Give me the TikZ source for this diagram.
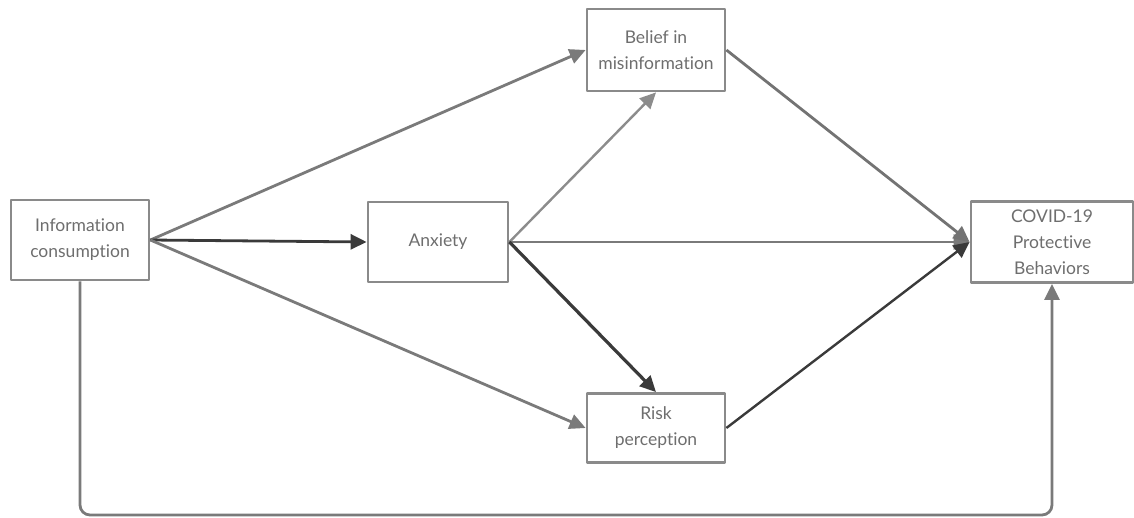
\documentclass[tikz,border=0pt]{standalone}
\usepackage{fontspec}
\setmainfont{Lato}[Ligatures={NoCommon}]
\usetikzlibrary{arrows.meta}
\definecolor{boxgray}{HTML}{8A8A8A}
\definecolor{txtgray}{HTML}{6E6E6E}
\definecolor{midgray}{HTML}{7A7A7A}
\definecolor{lightgray}{HTML}{8C8C8C}
\definecolor{darkgray}{HTML}{3A3A3A}
\begin{document}
\begin{tikzpicture}[x=1pt, y=-1pt, line join=round,
	font=\fontsize{17.5}{26}\selectfont,
	>={Triangle[length=16pt,width=15pt]},
	varbox/.style={draw=boxgray, line width=2.8pt, fill=white, text=txtgray,
		align=center, inner sep=0pt, minimum width=138pt, minimum height=80pt},
	path/.style={->, line width=2.8pt, draw=midgray},
	paththin/.style={->, line width=2.4pt, draw=lightgray},
	pathdark/.style={->, line width=2.8pt, draw=darkgray}]
	\useasboundingbox (0,0) rectangle (1134,518);
	
	\node[varbox] (info) at (80,240) {Information\\consumption};
	\node[varbox, minimum width=140pt] (anx) at (438,242) {Anxiety};
	\node[varbox, minimum height=82pt] (belief) at (656,50) {Belief in\\misinformation};
	\node[varbox, minimum height=69pt] (risk) at (656,428) {Risk\\perception};
	\node[varbox, minimum width=162pt, minimum height=81pt] (covid) at (1052,242) {COVID-19\\Protective\\Behaviors};
	
	\draw[path] (info.east) -- (belief.west);
	\draw[pathdark] (info.east) -- (anx.west);
	\draw[path] (info.east) -- (risk.west);
	\draw[paththin] (anx.east) -- (belief.south);
	\draw[path] (anx.east) -- (covid.west);
	\draw[pathdark, line width=3.2pt] (anx.east) -- (risk.north);
	\draw[path, draw=gray!90!black] (belief.east) -- (covid.west);
	\draw[pathdark, line width=2.4pt] (risk.east) -- (covid.west);
	\draw[path, rounded corners=10pt] (info.south) -- (info.south |- 0,515) -| (covid.south);
\end{tikzpicture}
\end{document}
